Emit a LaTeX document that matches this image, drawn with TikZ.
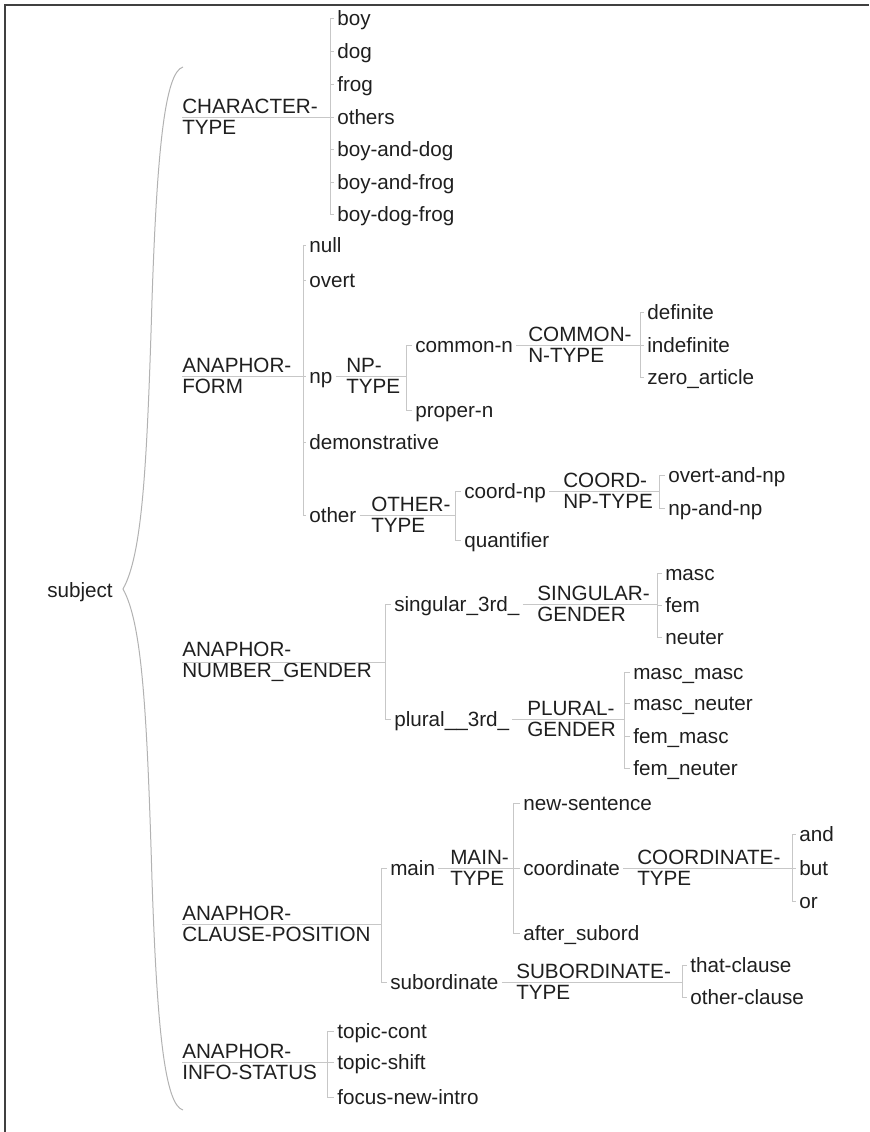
\documentclass[tikz,border=0pt]{standalone}
\usepackage{fontspec}
\setmainfont{Liberation Sans}
\usepackage{tikz}
\usepackage{xcolor}

\begin{document}
\begin{tikzpicture}[x=0.75pt, y=-0.75pt,
  every node/.style={font=\fontsize{15.5}{15.75}\selectfont, text=black!88},
  cat/.style={anchor=west, align=left, inner sep=0pt},
  val/.style={anchor=west, inner xsep=2.25pt, inner ysep=0pt, text height=11.1pt, text depth=0pt},
  link/.style={draw=black!22, line width=0.75pt}]
\useasboundingbox (0,0) rectangle (869,1132);
\draw[black!75, line width=1pt] (5,1132) -- (5,5) -- (869,5);

% root and brace
\node[val] (subject) at (44,590) {subject};
\draw[black!30, line width=0.75pt] (183,67) .. controls (165,72) and (157,150) .. (152,300)
  .. controls (147,470) and (142,555) .. (123,589) .. controls (142,623) and (147,710) .. (152,880)
  .. controls (157,1030) and (165,1105) .. (183,1110);

% character type
\node[cat] (chartype) at (182,117) {CHARACTER-\\TYPE};
\coordinate (ctbar) at (330,117);
\node[val] (boy) at (334,18) {boy};
\node[val] (dog) at (334,51) {dog};
\node[val] (frog) at (334,84) {frog};
\node[val] (others) at (334,117) {others};
\node[val] (boyanddog) at (334,149) {boy-and-dog};
\node[val] (boyandfrog) at (334,182) {boy-and-frog};
\node[val] (boydogfrog) at (334,214) {boy-dog-frog};
\draw[link] (chartype.west) -- (ctbar);
\draw[link] (ctbar) |- (boy.west) (ctbar) |- (dog.west) (ctbar) |- (frog.west) (ctbar) |- (others.west)
  (ctbar) |- (boyanddog.west) (ctbar) |- (boyandfrog.west) (ctbar) |- (boydogfrog.west);

% anaphor form
\node[cat] (anaform) at (182,376) {ANAPHOR-\\FORM};
\coordinate (afbar) at (303,376);
\node[val] (null) at (306,245) {null};
\node[val] (overt) at (306,280) {overt};
\node[val] (np) at (306,376) {np};
\node[val] (demonstrative) at (306,442) {demonstrative};
\node[val] (other) at (306,515) {other};
\draw[link] (anaform.west) -- (afbar);
\draw[link] (afbar) |- (null.west) (afbar) |- (overt.west) (afbar) |- (np.west)
  (afbar) |- (demonstrative.west) (afbar) |- (other.west);

\node[cat] (nptype) at (346,376) {NP-\\TYPE};
\coordinate (npbar) at (406,376);
\node[val] (commonn) at (412,345) {common-n};
\node[val] (propern) at (412,410) {proper-n};
\draw[link] (np.east) -- (npbar);
\draw[link] (npbar) |- (commonn.west) (npbar) |- (propern.west);

\node[cat] (commontype) at (528,345) {COMMON-\\N-TYPE};
\coordinate (cnbar) at (640,345);
\node[val] (definite) at (644,312) {definite};
\node[val] (indefinite) at (644,345) {indefinite};
\node[val] (zeroarticle) at (644,377) {zero\_article};
\draw[link] (commonn.east) -- (cnbar);
\draw[link] (cnbar) |- (definite.west) (cnbar) |- (indefinite.west) (cnbar) |- (zeroarticle.west);

\node[cat] (othertype) at (371,515) {OTHER-\\TYPE};
\coordinate (otbar) at (455,515);
\node[val] (coordnp) at (461,491) {coord-np};
\node[val] (quantifier) at (461,540) {quantifier};
\draw[link] (other.east) -- (otbar);
\draw[link] (otbar) |- (coordnp.west) (otbar) |- (quantifier.west);

\node[cat] (coordnptype) at (563,491) {COORD-\\NP-TYPE};
\coordinate (cobar) at (659,491);
\node[val] (overtandnp) at (665,475) {overt-and-np};
\node[val] (npandnp) at (665,508) {np-and-np};
\draw[link] (coordnp.east) -- (cobar);
\draw[link] (cobar) |- (overtandnp.west) (cobar) |- (npandnp.west);

% anaphor number and gender
\node[cat] (anagender) at (182,662) {ANAPHOR-\\NUMBER\_GENDER};
\coordinate (agbar) at (385,662);
\node[val] (singular) at (391,604) {singular\_3rd\_};
\node[val] (plural) at (391,719) {plural\_\_3rd\_};
\draw[link] (anagender.west) -- (agbar);
\draw[link] (agbar) |- (singular.west) (agbar) |- (plural.west);

\node[cat] (singgender) at (537,604) {SINGULAR-\\GENDER};
\coordinate (sgbar) at (657,604);
\node[val] (masc) at (662,573) {masc};
\node[val] (fem) at (662,605) {fem};
\node[val] (neuter) at (662,637) {neuter};
\draw[link] (singular.east) -- (sgbar);
\draw[link] (sgbar) |- (masc.west) (sgbar) |- (fem.west) (sgbar) |- (neuter.west);

\node[cat] (plurgender) at (527,719) {PLURAL-\\GENDER};
\coordinate (pgbar) at (624,719);
\node[val] (mascmasc) at (630,672) {masc\_masc};
\node[val] (mascneuter) at (630,703) {masc\_neuter};
\node[val] (femmasc) at (630,736) {fem\_masc};
\node[val] (femneuter) at (630,768) {fem\_neuter};
\draw[link] (plural.east) -- (pgbar);
\draw[link] (pgbar) |- (mascmasc.west) (pgbar) |- (mascneuter.west) (pgbar) |- (femmasc.west) (pgbar) |- (femneuter.west);

% anaphor clause position
\node[cat] (anaclause) at (182,924) {ANAPHOR-\\CLAUSE-POSITION};
\coordinate (acbar) at (381,924);
\node[val] (main) at (387,868) {main};
\node[val] (subordinate) at (387,982) {subordinate};
\draw[link] (anaclause.west) -- (acbar);
\draw[link] (acbar) |- (main.west) (acbar) |- (subordinate.west);

\node[cat] (maintype) at (450,868) {MAIN-\\TYPE};
\coordinate (mtbar) at (513,868);
\node[val] (newsentence) at (520,803) {new-sentence};
\node[val] (coordinate) at (520,868) {coordinate};
\node[val] (aftersubord) at (520,933) {after\_subord};
\draw[link] (main.east) -- (mtbar);
\draw[link] (mtbar) |- (newsentence.west) (mtbar) |- (coordinate.west) (mtbar) |- (aftersubord.west);

\node[cat] (coordtype) at (637,868) {COORDINATE-\\TYPE};
\coordinate (ctpbar) at (792,868);
\node[val] (and) at (796,834) {and};
\node[val] (but) at (796,868) {but};
\node[val] (or) at (796,901) {or};
\draw[link] (coordinate.east) -- (ctpbar);
\draw[link] (ctpbar) |- (and.west) (ctpbar) |- (but.west) (ctpbar) |- (or.west);

\node[cat] (subtype) at (516,982) {SUBORDINATE-\\TYPE};
\coordinate (stbar) at (682,982);
\node[val] (thatclause) at (687,965) {that-clause};
\node[val] (otherclause) at (687,997) {other-clause};
\draw[link] (subordinate.east) -- (stbar);
\draw[link] (stbar) |- (thatclause.west) (stbar) |- (otherclause.west);

% anaphor info status
\node[cat] (anainfo) at (182,1062) {ANAPHOR-\\INFO-STATUS};
\coordinate (aibar) at (327,1062);
\node[val] (topiccont) at (334,1031) {topic-cont};
\node[val] (topicshift) at (334,1062) {topic-shift};
\node[val] (focusnewintro) at (334,1097) {focus-new-intro};
\draw[link] (anainfo.west) -- (aibar);
\draw[link] (aibar) |- (topiccont.west) (aibar) |- (topicshift.west) (aibar) |- (focusnewintro.west);
\end{tikzpicture}
\end{document}
